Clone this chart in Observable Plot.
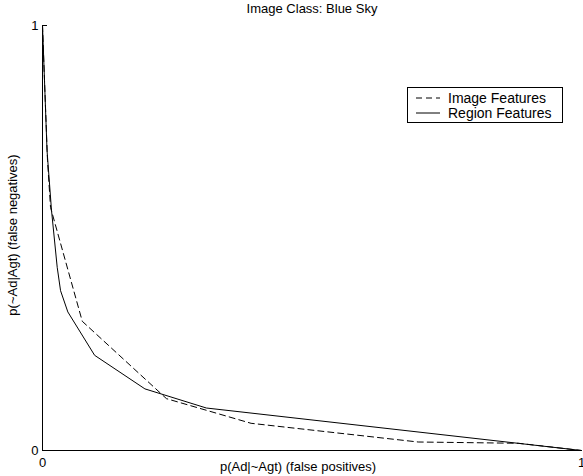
<!DOCTYPE html>
<html>
<head>
<meta charset="utf-8">
<script src="https://cdn.jsdelivr.net/npm/d3@7"></script>
<script src="https://cdn.jsdelivr.net/npm/@observablehq/plot@0.6"></script>
<style>
  html, body { margin: 0; padding: 0; background: #fff; }
  #wrap { position: relative; width: 583px; height: 476px; font-family: "Liberation Sans", Arial, Helvetica, sans-serif; }
  #legend { position: absolute; left: 407px; top: 87px; width: 156px; height: 36px; border: 1px solid #000; background: #fff; box-sizing: border-box; }
  .row { position: absolute; left: 0; height: 14px; line-height: 14px; display: flex; align-items: center; font-size: 14px; color: #000; white-space: nowrap; }
  .row span { line-height: 14px; height: 14px; display: inline-block; }
  .row svg { margin-left: 8px; margin-right: 8px; }
</style>
</head>
<body>
<div id="wrap"></div>
<script>
const titleText = "Image Class: Blue Sky";
const xLabel = "p(Ad|~Agt) (false positives)";
const yLabel = "p(~Ad|Agt) (false negatives)";
const xTicks = [0, 1];
const yTicks = [0, 1];
const seriesNames = ["Image Features", "Region Features"];
const seriesDash = ["6,4", null];

// Image Features (dashed)
const imageX = [0, 0.0037, 0.0093, 0.0149, 0.0738, 0.230, 0.387, 0.697, 0.883, 1];
const imageY = [1, 0.871, 0.682, 0.572, 0.304, 0.122, 0.064, 0.020, 0.017, 0];
// Region Features (solid)
const regionX = [0, 0.0037, 0.0084, 0.0167, 0.0273, 0.0335, 0.0470, 0.0967, 0.190, 0.304, 1];
const regionY = [1, 0.871, 0.706, 0.565, 0.431, 0.376, 0.326, 0.224, 0.145, 0.100, 0];

const imageData = imageX.map((x, i) => ({x, y: imageY[i]}));
const regionData = regionX.map((x, i) => ({x, y: regionY[i]}));

const font = "Liberation Sans, Arial, Helvetica, sans-serif";

const chart = Plot.plot({
  width: 583,
  height: 476,
  marginLeft: 42,
  marginRight: 2,
  marginTop: 25,
  marginBottom: 26,
  style: {fontFamily: font, fontSize: "13px", background: "#fff", color: "#000", overflow: "visible"},
  x: {domain: [0, 1]},
  y: {domain: [0, 1]},
  marks: [
    Plot.axisX({ticks: xTicks, tickSize: 0, tickPadding: 7, tickFormat: d3.format("d"), label: null, fontSize: 13}),
    Plot.axisY({ticks: yTicks, tickSize: 0, tickPadding: 4, tickFormat: d3.format("d"), label: null, fontSize: 13}),
    Plot.axisY({ticks: [yTicks[1]], tickSize: -5, tickFormat: () => "", label: null}),
    Plot.ruleX([0], {stroke: "#000", strokeWidth: 1}),
    Plot.ruleY([0], {stroke: "#000", strokeWidth: 1}),
    Plot.line(imageData, {x: "x", y: "y", stroke: "#000", strokeWidth: 1, strokeDasharray: seriesDash[0]}),
    Plot.line(regionData, {x: "x", y: "y", stroke: "#000", strokeWidth: 1}),
    Plot.text([titleText], {frameAnchor: "top", dy: -16.5, lineAnchor: "middle", fontSize: 13, fill: "#000"}),
    Plot.text([xLabel], {frameAnchor: "bottom", dy: 16, dx: -14, lineAnchor: "middle", fontSize: 13, fill: "#000"}),
    Plot.text([yLabel], {frameAnchor: "left", dx: -30, dy: -3, rotate: -90, textAnchor: "middle", lineAnchor: "middle", fontSize: 13, fill: "#000"})
  ]
});

const wrap = document.getElementById("wrap");
wrap.appendChild(chart);

const legend = document.createElement("div");
legend.id = "legend";
seriesNames.forEach((name, i) => {
  const row = document.createElement("div");
  row.className = "row";
  row.style.top = (3 + i * 14.5) + "px";
  const dash = seriesDash[i] ? `stroke-dasharray="${seriesDash[i]}"` : "";
  row.innerHTML = `<svg width="24" height="4"><line x1="0" y1="2" x2="24" y2="2" stroke="#000" stroke-width="1" ${dash}/></svg><span>${name}</span>`;
  legend.appendChild(row);
});
wrap.appendChild(legend);
</script>
</body>
</html>
